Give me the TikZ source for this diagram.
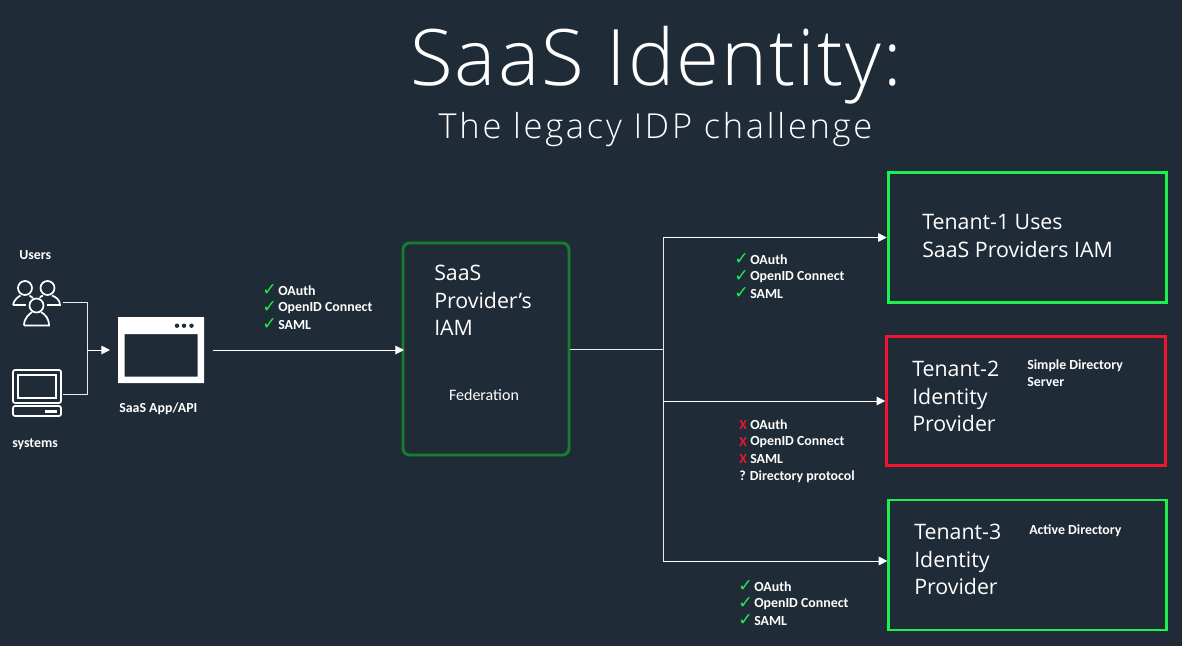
\documentclass[tikz,border=0pt]{standalone}
\usepackage{fontspec}
\setmainfont{Carlito}
\newfontfamily\titlefont{Open Sans Light}
\newfontfamily\bodyfont{Open Sans}
\newfontfamily\symfont{DejaVu Sans}
\usetikzlibrary{arrows.meta}
\definecolor{bg}{HTML}{202B38}
\definecolor{okgreen}{HTML}{1CF04C}
\definecolor{badred}{HTML}{F0142C}
\definecolor{darkgreen}{HTML}{14802E}
\tikzset{
  x=0.75pt,y=-0.75pt,
  conn/.style={draw=white,line width=0.75pt,-{Triangle[length=6.5pt,width=6.5pt]}},
  plain/.style={draw=white!92!black,line width=0.75pt},
  tbox/.style={draw=okgreen,line width=2.2pt,fill=none},
  big/.style={text=white,font=\bodyfont\fontsize{16pt}{20.6pt}\selectfont,align=left,anchor=north west,inner sep=0pt},
  small/.style={text=white,font=\bfseries\fontsize{10.4pt}{12.4pt}\selectfont,anchor=west,inner sep=0pt},
  tick/.style={font=\symfont\fontsize{13pt}{14pt}\selectfont,anchor=west,inner sep=0pt},
  icon/.style={draw=white,line width=1.3pt,fill=none},
}
\newcommand{\oklist}[2]{%
  \node[tick,text=okgreen] at (#1-2,#2) {✓};
  \node[small] at (#1+14,#2+1) {OAuth};
  \node[tick,text=okgreen] at (#1-2,#2+17) {✓};
  \node[small] at (#1+14,#2+18.5) {OpenID Connect};
  \node[tick,text=okgreen] at (#1-2,#2+34) {✓};
  \node[small] at (#1+14,#2+35) {SAML};}
\begin{document}
\begin{tikzpicture}
\useasboundingbox (0,0) rectangle (1182,646);
\fill[bg] (0,0) rectangle (1182,646);
% titles
\node[text=white,font=\titlefont\fontsize{58.5pt}{62pt}\selectfont,inner sep=0pt] (title) at (656,65) {\addfontfeature{LetterSpace=2.6}SaaS Identity:};
\node[text=white,font=\titlefont\fontsize{25.8pt}{30pt}\selectfont,inner sep=0pt] (subtitle) at (655.5,130) {\addfontfeature{LetterSpace=8}The legacy IDP challenge};
% left labels
\node[small] (users) at (19,255) {Users};
\node[small] (systems) at (12,444) {systems};
\node[small] (applabel) at (119,409) {SaaS App/API};
% users icon
\begin{scope}[icon]
  \draw (25,288) circle (7);
  \draw (47.5,288) circle (7);
  \draw (36.5,305.5) circle (7);
  \draw (13,305) .. controls (14,299) and (19,296.5) .. (20.5,295.5);
  \draw (13,305) -- (26,305);
  \draw (29.5,295.5) .. controls (31,296) and (32,297) .. (33,298);
  \draw (43,295.5) .. controls (41,296) and (40,297) .. (40,298);
  \draw (52,295.5) .. controls (56,297) and (60,300) .. (60,305) -- (47,305);
  \draw (24,325.5) .. controls (24,318) and (29,314.5) .. (32,312);
  \draw (41,312) .. controls (45,314.5) and (49,318) .. (49,325.5) -- (24,325.5);
\end{scope}
% laptop icon
\begin{scope}[icon]
  \draw[rounded corners=1.5pt] (13,370) rectangle (61,403);
  \draw (18,375) rectangle (56,398);
  \draw[rounded corners=1.5pt] (13,406) rectangle (61,416);
  \fill[white] (45,409.5) rectangle (57,412.5);
\end{scope}
% app window icon
\fill[white,even odd rule] (118,317) rectangle (204,383) (124.5,334) rectangle (197.5,376.5);
\foreach \cx in {177,184,191.5} \fill[bg] (\cx,325.7) circle (2.2);
% connectors left
\coordinate (usersout) at (63,302);
\coordinate (sysout) at (63,394);
\coordinate (junction) at (87,350);
\coordinate (appin) at (110,350);
\draw[plain] (usersout) -| (junction);
\draw[plain] (sysout) -| (junction);
\draw[conn] (junction) -- (appin);
% provider box
\node[draw=darkgreen,line width=2.2pt,rounded corners=5pt,minimum width=124.5pt,minimum height=159pt,inner sep=0pt] (iam) at (486,349) {};
\node[big] (iamtext) at (434,265) {SaaS\\Provider’s\\IAM};
\node[text=white,font=\fontsize{12pt}{14pt}\selectfont,inner sep=0pt] (fed) at (484,395) {Federation};
% tenants
\node[tbox,minimum width=209pt,minimum height=97.5pt,inner sep=0pt] (t1) at (1027.5,237.5) {};
\node[tbox,draw=badred,minimum width=209pt,minimum height=97pt,inner sep=0pt] (t2) at (1026,401) {};
\node[tbox,minimum width=208pt,minimum height=97.5pt,inner sep=0pt] (t3) at (1027.5,565) {};
\node[big] at (922,214.5) {Tenant-1 Uses\\SaaS Providers IAM};
\node[big] at (912,361) {Tenant-2\\Identity\\Provider};
\node[big] at (914,524) {Tenant-3\\Identity\\Provider};
\node[small,align=left,anchor=north west] at (1027,359.5) {Simple Directory\\Server};
\node[small] at (1029,531) {Active Directory};
% main connectors
\coordinate (appout) at (213,350);
\coordinate (iamin) at (404,350);
\draw[conn] (appout) -- (iamin);
\coordinate (bus) at (663,349.5);
\draw[plain] (iam.east |- bus) -- (bus);
\coordinate (bustop) at (663,237.5);
\coordinate (busmid) at (663,401);
\coordinate (busbot) at (663,561);
\draw[plain] (bustop) -- (busbot);
\draw[conn] (bustop) -- (t1.west);
\draw[conn] (busmid) -- (t2.west);
\draw[conn] (busbot) -- (t3.west |- busbot);
% protocol lists
\oklist{264}{290}
\oklist{736}{259}
\oklist{740}{586}
\node[small,text=badred] at (739,425) {X};
\node[small] at (750,425) {OAuth};
\node[small,text=badred] at (739,442) {X};
\node[small] at (750,442.5) {OpenID Connect};
\node[small,text=badred] at (739,459) {X};
\node[small] at (750,459) {SAML};
\node[small] at (739,476.5) {? Directory protocol};
\end{tikzpicture}
\end{document}
